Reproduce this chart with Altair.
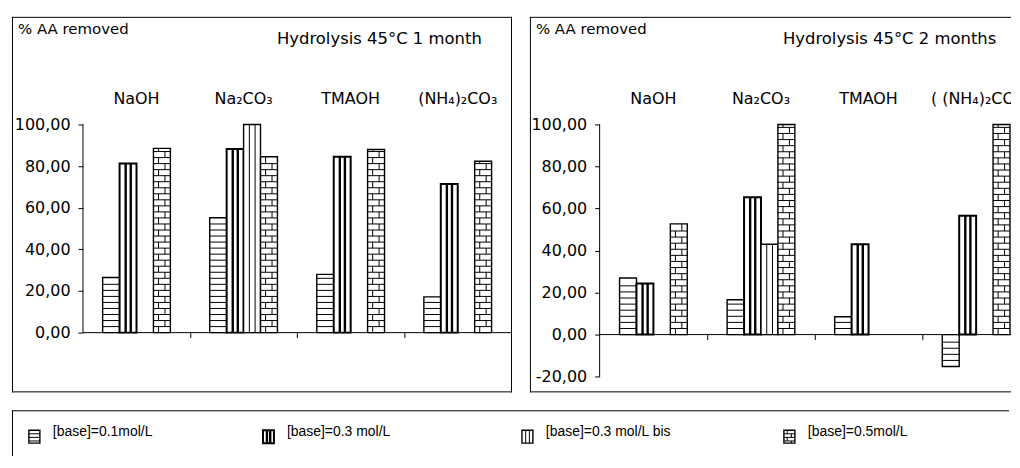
import altair as alt
import numpy as np
import pandas as pd

# ---------------- data ----------------
categories_1 = ["NaOH", "Na₂CO₃", "TMAOH", "(NH₄)₂CO₃"]
categories_2 = ["NaOH", "Na₂CO₃", "TMAOH", "( (NH₄)₂CO₃"]
series = ["[base]=0.1mol/L", "[base]=0.3 mol/L", "[base]=0.3 mol/L bis", "[base]=0.5mol/L"]

# Hydrolysis 45°C 1 month
m1_c01 = [26.5, 55.2, 28.0, 17.2]
m1_c03 = [81.3, 88.2, 84.5, 71.4]
m1_c03bis = [None, 100.0, None, None]
m1_c05 = [88.5, 84.5, 88.0, 82.3]

# Hydrolysis 45°C 2 months
m2_c01 = [26.9, 16.6, 8.5, -15.2]
m2_c03 = [24.3, 65.4, 43.0, 56.5]
m2_c03bis = [None, 43.0, None, None]
m2_c05 = [52.7, 100.0, None, 100.0]

y_ticks_1 = [0, 20, 40, 60, 80, 100]
y_ticks_2 = [-20, 0, 20, 40, 60, 80, 100]

titles = ["Hydrolysis 45°C 1 month", "Hydrolysis 45°C 2 months"]
y_title = "% AA removed"

# ---------------- layout / style ----------------
FONT = "DejaVu Sans"
PH = 377                    # panel box height
STEP = 2.9                  # pattern row spacing (value units)
MINUS = "\u2212"
LEGEND_SYMBOL_X = [17, 252, 512, 775]   # layout of the legend entries (px in legend box)


def bar_shapes(x0, x1, y0, y1, kind, step, rects, segs):
    """white bar with a black-and-white hatch pattern drawn with rules"""
    rects.append(dict(x=x0, x2=x1, y=y0, y2=y1, ow=2.0 if kind == 1 else 1.4))
    lo, hi = min(y0, y1), max(y0, y1)
    w = x1 - x0
    if kind in (0, 3):
        levels = list(np.arange(lo + step, hi - step * 0.3, step))
        for lv in levels:
            segs.append(dict(x=x0, x2=x1, y=lv, y2=lv, sw=1.0))
        if kind == 3:
            edges = [lo] + levels + [hi]
            for k in range(len(edges) - 1):
                f = 0.3 if k % 2 == 0 else 0.68
                segs.append(dict(x=x0 + f * w, x2=x0 + f * w, y=edges[k], y2=edges[k + 1], sw=1.0))
    elif kind == 1:
        for f in (0.36, 0.66):
            segs.append(dict(x=x0 + f * w, x2=x0 + f * w, y=lo, y2=hi, sw=2.4))
    elif kind == 2:
        for f in (0.34, 0.68):
            segs.append(dict(x=x0 + f * w, x2=x0 + f * w, y=lo, y2=hi, sw=1.0))


def border(w, h, sides):
    layers = []
    if "top" in sides:
        layers.append(alt.Chart().mark_rule(color="black", strokeWidth=1).encode(
            x=alt.value(0), x2=alt.value(w), y=alt.value(0.5)))
    if "bottom" in sides:
        layers.append(alt.Chart().mark_rule(color="black", strokeWidth=1).encode(
            x=alt.value(0), x2=alt.value(w), y=alt.value(h - 0.5)))
    if "left" in sides:
        layers.append(alt.Chart().mark_rule(color="black", strokeWidth=1).encode(
            x=alt.value(0.5), y=alt.value(0), y2=alt.value(h)))
    if "right" in sides:
        layers.append(alt.Chart().mark_rule(color="black", strokeWidth=1).encode(
            x=alt.value(w - 0.5), y=alt.value(0), y2=alt.value(h)))
    return layers


def panel(vals, cats, title, yd, yticks, pw, pxu, x_left, title_x, sides):
    xd = [x_left, x_left + pw / pxu]
    bw = 17 / pxu
    rects, segs = [], []
    for si, arr in enumerate(vals):
        for ci, v in enumerate(arr):
            if v is None:
                continue
            x0 = ci + (si - 2) * bw
            bar_shapes(x0, x0 + bw, 0.0, v, si, STEP, rects, segs)
    rect_df = pd.DataFrame(rects)
    seg_df = pd.DataFrame(segs)

    xs = alt.Scale(domain=xd, nice=False, zero=False)
    ys = alt.Scale(domain=yd, nice=False, zero=False)
    pxu_y = PH / (yd[1] - yd[0])
    zero_from_bottom = (0 - yd[0]) * pxu_y
    yaxis_px = (-0.5 - xd[0]) * pxu

    xaxis = alt.Axis(values=[0.5, 1.5, 2.5], labels=False, domain=False, grid=False,
                     ticks=True, tickSize=5, tickColor="black", tickWidth=1,
                     offset=-zero_from_bottom, title=None)
    yaxis = alt.Axis(values=yticks, domain=False, grid=False, ticks=True, tickSize=5,
                     tickColor="black", tickWidth=1, title=None,
                     labelExpr="replace(replace(format(datum.value, '.2f'), '.', ','), '" + MINUS + "', '-')",
                     labelFont=FONT, labelFontSize=16, labelColor="black", labelPadding=8,
                     offset=-yaxis_px)

    X = alt.X("x:Q", scale=xs, axis=xaxis)
    Y = alt.Y("y:Q", scale=ys, axis=yaxis)

    bars = alt.Chart(rect_df).mark_rect(fill="white", stroke="black").encode(
        x=X, x2="x2:Q", y=Y, y2="y2:Q",
        strokeWidth=alt.StrokeWidth("ow:Q", scale=None))
    hatch = alt.Chart(seg_df).mark_rule(color="black").encode(
        x=X, x2="x2:Q", y=Y, y2="y2:Q",
        strokeWidth=alt.StrokeWidth("sw:Q", scale=None))

    yline_df = pd.DataFrame([dict(x=-0.5, y=min(yticks), y2=max(yticks))])
    yline = alt.Chart(yline_df).mark_rule(color="black", strokeWidth=1).encode(x=X, y=Y, y2="y2:Q")
    xline_df = pd.DataFrame([dict(x=-0.5, x2=xd[1], y=0.0)])
    xline = alt.Chart(xline_df).mark_rule(color="black", strokeWidth=1).encode(x=X, x2="x2:Q", y=Y)

    cat_df = pd.DataFrame(dict(x=list(range(len(cats))), label=cats))
    cat_text = alt.Chart(cat_df).mark_text(font=FONT, fontSize=16, color="black",
                                           baseline="middle", align="center", clip=True).encode(
        x=X, y=alt.value(82), text="label:N")

    ttl_df = pd.DataFrame(dict(t=[y_title]))
    ytitle = alt.Chart(ttl_df).mark_text(font=FONT, fontSize=15, color="black",
                                         baseline="middle", align="left").encode(
        x=alt.value(6), y=alt.value(12), text="t:N")
    ttl2_df = pd.DataFrame(dict(t=[title]))
    ptitle = alt.Chart(ttl2_df).mark_text(font=FONT, fontSize=16.5, color="black",
                                          baseline="middle", align="left").encode(
        x=alt.value(title_x), y=alt.value(22), text="t:N")

    return alt.layer(bars, hatch, yline, xline, cat_text, ytitle, ptitle,
                     *border(pw, PH, sides)).properties(width=pw, height=PH)


left = panel([m1_c01, m1_c03, m1_c03bis, m1_c05], categories_1, titles[0],
             [-28.7, 151.7], y_ticks_1, 502, 107.5, -1.163, 266,
             ("top", "bottom", "left", "right"))
right = panel([m2_c01, m2_c03, m2_c03bis, m2_c05], categories_2, titles[1],
              [-27.5, 151.2], y_ticks_2, 483, 108.0, -1.148, 254,
              ("top", "bottom", "left"))

# ---------------- legend box ----------------
LW, LH = 1001, 46
l_rects, l_segs = [], []
for i in range(len(series)):
    sx = LEGEND_SYMBOL_X[i]
    bar_shapes(sx, sx + 11, 33, 20, i, 3.6, l_rects, l_segs)
leg_items = pd.DataFrame(dict(x=[sx + 24 for sx in LEGEND_SYMBOL_X], label=series))
lxs = alt.Scale(domain=[0, LW], nice=False, zero=False)
lys = alt.Scale(domain=[0, LH], nice=False, zero=False, reverse=True)
LX = alt.X("x:Q", scale=lxs, axis=None)
LY = alt.Y("y:Q", scale=lys, axis=None)
leg_rect = alt.Chart(pd.DataFrame(l_rects)).mark_rect(fill="white", stroke="black").encode(
    x=LX, x2="x2:Q", y=LY, y2="y2:Q", strokeWidth=alt.StrokeWidth("ow:Q", scale=None))
leg_hatch = alt.Chart(pd.DataFrame(l_segs)).mark_rule(color="black").encode(
    x=LX, x2="x2:Q", y=LY, y2="y2:Q", strokeWidth=alt.StrokeWidth("sw:Q", scale=None))
leg_text = alt.Chart(leg_items).mark_text(font="Liberation Sans", fontSize=14, color="black",
                                          align="left", baseline="middle").encode(
    x=LX, y=alt.value(22), text="label:N")
legend = alt.layer(leg_rect, leg_hatch, leg_text, *border(LW, LH, ("top", "left"))).properties(
    width=LW, height=LH)

chart = alt.vconcat(
    alt.hconcat(left, right, spacing=16),
    legend,
    spacing=16,
).properties(
    padding={"left": 3, "top": 7, "right": 0, "bottom": 0},
    background="white",
).configure_view(strokeWidth=0)

chart.save("out.html", embed_options={"renderer": "svg", "actions": False})
